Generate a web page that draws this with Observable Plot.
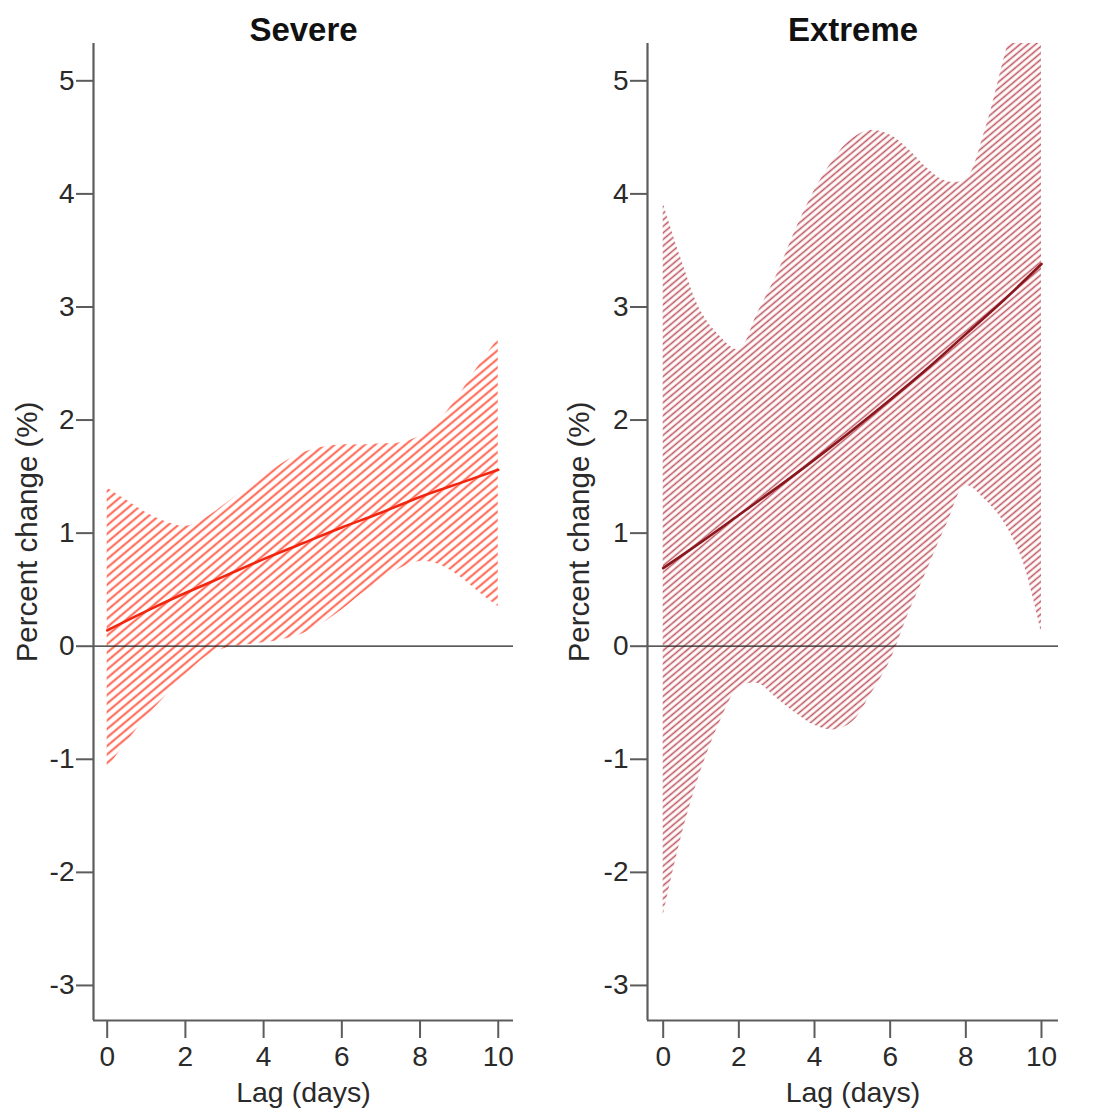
<!DOCTYPE html>
<html>
<head>
<meta charset="utf-8">
<script src="https://cdn.jsdelivr.net/npm/d3@7"></script>
<script src="https://cdn.jsdelivr.net/npm/@observablehq/plot@0.6"></script>
<style>
  body { margin: 0; background: #fff; }
  #chart { position: relative; width: 1095px; height: 1112px; }
  #chart svg { position: absolute; top: 0; }
</style>
</head>
<body>
<div id="chart"></div>
<script>
// Lag grid for the confidence bands (days)
const bandLags = [0, 0.5, 1, 1.5, 2, 2.5, 3, 3.5, 4, 4.5, 5, 5.5, 6, 6.5, 7, 7.5, 8, 8.5, 9, 9.5, 10];

// Severe: 95% CI bounds of the percent change
const severeLower = [-1.08, -0.85, -0.63, -0.44, -0.26, -0.10, -0.02, 0.01, 0.03, 0.06, 0.11, 0.20, 0.32, 0.46, 0.58, 0.69, 0.75, 0.72, 0.62, 0.48, 0.35];
const severeUpper = [1.40, 1.29, 1.18, 1.10, 1.06, 1.13, 1.25, 1.38, 1.50, 1.62, 1.71, 1.76, 1.78, 1.78, 1.79, 1.80, 1.86, 2.00, 2.22, 2.48, 2.72];

// Extreme: 95% CI bounds of the percent change
const extremeLower = [-2.39, -1.66, -1.10, -0.67, -0.37, -0.33, -0.46, -0.59, -0.70, -0.74, -0.67, -0.42, -0.13, 0.30, 0.69, 1.08, 1.42, 1.30, 1.10, 0.76, 0.12];
const extremeUpper = [3.92, 3.40, 2.96, 2.74, 2.62, 2.95, 3.28, 3.68, 4.03, 4.30, 4.49, 4.56, 4.52, 4.39, 4.22, 4.11, 4.13, 4.55, 5.18, 5.80, 6.30];

// Point estimates at whole-day lags
const lineLags = [0, 1, 2, 3, 4, 5, 6, 7, 8, 9, 10];
const severeEstimate = [0.14, 0.31, 0.47, 0.62, 0.77, 0.91, 1.05, 1.18, 1.32, 1.44, 1.56];
const extremeEstimate = [0.69, 0.92, 1.16, 1.40, 1.65, 1.91, 2.18, 2.46, 2.76, 3.06, 3.38];

// Axis ticks and labels
const xTicks = [0, 2, 4, 6, 8, 10];
const yTicks = [-3, -2, -1, 0, 1, 2, 3, 4, 5];
const panelTitles = ["Severe", "Extreme"];
const xLabel = "Lag (days)";
const yLabel = "Percent change (%)";

const SVG_NS = "http://www.w3.org/2000/svg";
const yDomain = [-3.31, 5.33];
const axisGray = "#5c5c5c";
const plainNumber = (d) => String(d); // ASCII hyphen for negatives

// Diagonal hatching pattern used to fill a confidence band
function addHatch(svg, id, color, gap, width) {
  const defs = document.createElementNS(SVG_NS, "defs");
  const pat = document.createElementNS(SVG_NS, "pattern");
  pat.setAttribute("id", id);
  pat.setAttribute("patternUnits", "userSpaceOnUse");
  pat.setAttribute("width", 20);
  pat.setAttribute("height", gap);
  pat.setAttribute("patternTransform", "rotate(-40)");
  const ln = document.createElementNS(SVG_NS, "line");
  ln.setAttribute("x1", 0);
  ln.setAttribute("x2", 20);
  ln.setAttribute("y1", gap / 2);
  ln.setAttribute("y2", gap / 2);
  ln.setAttribute("stroke", color);
  ln.setAttribute("stroke-width", width);
  pat.appendChild(ln);
  defs.appendChild(pat);
  svg.insertBefore(defs, svg.firstChild);
}

function panel(cfg) {
  const band = bandLags.map((lag, i) => ({lag, lo: cfg.lower[i], hi: cfg.upper[i]}));
  const est = lineLags.map((lag, i) => ({lag, value: cfg.estimate[i]}));
  const svg = Plot.plot({
    width: cfg.width,
    height: 1112,
    marginLeft: cfg.marginLeft,
    marginRight: cfg.marginRight,
    marginTop: 43,
    marginBottom: 92,
    style: {fontFamily: "'Liberation Sans', Arial, sans-serif", fontSize: "28px", color: "#2a2a2a", background: "transparent"},
    x: {domain: cfg.xDomain},
    y: {domain: yDomain},
    marks: [
      Plot.areaY(band, {x: "lag", y1: "lo", y2: "hi", fill: `url(#${cfg.hatchId})`, curve: "catmull-rom", clip: true}),
      Plot.ruleY([0], {stroke: "#222", strokeWidth: 1.3}),
      Plot.line(est, {x: "lag", y: "value", stroke: cfg.lineColor, strokeWidth: 2.6, curve: "natural", clip: true}),
      Plot.ruleX([cfg.xDomain[0]], {stroke: axisGray, strokeWidth: 2.2}),
      Plot.ruleY([yDomain[0]], {stroke: axisGray, strokeWidth: 2.2}),
      Plot.axisY(yTicks, {tickSize: 17, tickPadding: 2, stroke: axisGray, strokeWidth: 2, label: null, fontSize: 28, tickFormat: plainNumber}),
      Plot.axisX(xTicks, {tickSize: 18, tickPadding: 8, stroke: axisGray, strokeWidth: 2, label: null, fontSize: 28, tickFormat: plainNumber}),
      Plot.text([cfg.title], {frameAnchor: "top", textAnchor: "middle", lineAnchor: "middle", dy: -13, fontSize: 33, fontWeight: "bold", fill: "#111"}),
      Plot.text([xLabel], {frameAnchor: "bottom", textAnchor: "middle", lineAnchor: "middle", dy: 72, fontSize: 28.5}),
      Plot.text([yLabel], {frameAnchor: "left", textAnchor: "middle", lineAnchor: "middle", dx: cfg.yLabelDx, rotate: -90, fontSize: 29.5})
    ]
  });
  addHatch(svg, cfg.hatchId, cfg.hatchColor, cfg.hatchGap, cfg.hatchWidth);
  svg.style.left = cfg.left + "px";
  return svg;
}

const chart = document.getElementById("chart");
chart.appendChild(panel({
  title: panelTitles[0],
  lower: severeLower, upper: severeUpper, estimate: severeEstimate,
  hatchId: "hatch-severe", hatchColor: "#ff5a46", hatchGap: 6.5, hatchWidth: 1.9,
  lineColor: "#f2260f",
  left: 0, width: 540, marginLeft: 93, marginRight: 27,
  xDomain: [-0.35, 10.39], yLabelDx: -65.5
}));
chart.appendChild(panel({
  title: panelTitles[1],
  lower: extremeLower, upper: extremeUpper, estimate: extremeEstimate,
  hatchId: "hatch-extreme", hatchColor: "#bf5760", hatchGap: 5.0, hatchWidth: 1.6,
  lineColor: "#8a161e",
  left: 540, width: 555, marginLeft: 107, marginRight: 37,
  xDomain: [-0.415, 10.45], yLabelDx: -68
}));
</script>
</body>
</html>
